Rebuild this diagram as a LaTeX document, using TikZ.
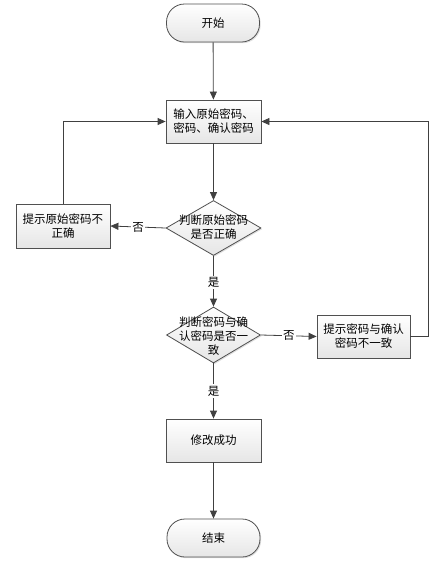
\documentclass[tikz,border=0pt]{standalone}
\usepackage{fontspec}
\setmainfont{Noto Sans CJK SC}
\usetikzlibrary{arrows.meta,shapes.geometric,shadows}
\definecolor{lnc}{HTML}{404040}
\definecolor{bdc}{HTML}{505050}
\definecolor{fillb}{HTML}{E6E6E6}
\tikzset{
  x=1pt,y=-1pt,
  base/.style={draw=bdc,line width=0.8pt,top color=white,bottom color=fillb,
    drop shadow={shadow xshift=1.2pt,shadow yshift=-1.2pt,opacity=0.25},font=\fontsize{11.5}{14}\selectfont},
  term/.style={base,rectangle,rounded corners=18pt,minimum width=93pt,minimum height=38pt},
  proc/.style={base,rectangle,minimum width=95pt,minimum height=43pt,align=center,inner sep=2pt},
  dec/.style={base,diamond,minimum width=94pt,minimum height=55pt,inner sep=0pt,aspect=1.7},
  txt/.style={font=\fontsize{11.5}{14}\selectfont,align=center,inner sep=0pt},
  lbl/.style={font=\fontsize{11.5}{14}\selectfont,fill=white,inner sep=1.5pt},
  conn/.style={draw=lnc,line width=0.8pt,-{Triangle[length=8pt,width=7pt]}},
}
\begin{document}
\begin{tikzpicture}
\useasboundingbox (0,0) rectangle (438,571);
\node[term] (start) at (213,23) {开始};
\node[proc] (b1) at (213.5,121.5) {输入原始密码、\\密码、确认密码};
\node[dec,minimum width=95pt,minimum height=55pt] (d1) at (213.5,228) {};
\node[txt] (t1) at (213.5,227) {判断原始密码\\是否正确};
\node[proc,minimum width=94pt,minimum height=44pt] (lb) at (63,226) {提示原始密码不\\正确};
\node[dec,minimum width=94pt,minimum height=56pt] (d2) at (213.5,335) {};
\node[txt] (t2) at (213.5,336) {判断密码与确\\认密码是否一\\致};
\node[proc,minimum width=93pt,minimum height=43pt] (rb) at (363.5,336.5) {提示密码与确认\\密码不一致};
\node[proc] (ok) at (213.5,440.5) {修改成功};
\node[term] (end) at (213.5,538) {结束};
\coordinate (rc) at (428,121.5);

\draw[conn] (start) -- (b1);
\draw[conn] (b1) -- (d1);
\draw[conn] (d1.west) -- node[lbl,pos=0.5] (n1) {否} (lb.east);
\draw[conn] (lb.north) |- (b1.west);
\draw[conn] (d1.south) -- node[lbl,pos=0.52] (y1) {是} (d2.north);
\draw[conn] (d2.east) -- node[lbl,pos=0.5] (n2) {否} (rb.west);
\draw[conn] (rb.east) -| (rc) -- (b1.east);
\draw[conn] (d2.south) -- node[lbl,pos=0.5] (y2) {是} (ok.north);
\draw[conn] (ok) -- (end);
\end{tikzpicture}
\end{document}
